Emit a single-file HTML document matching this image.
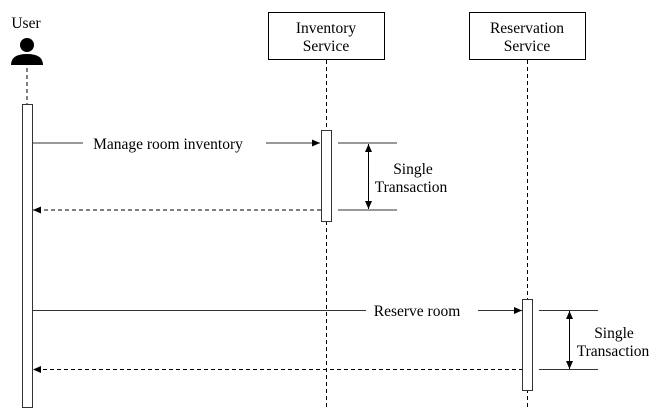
<!DOCTYPE html>
<html><head><meta charset="utf-8"><style>
html,body{margin:0;padding:0;background:#fff;width:656px;height:413px;overflow:hidden}
</style></head><body>
<svg width="656" height="413" viewBox="0 0 656 413" xmlns="http://www.w3.org/2000/svg" font-family="Liberation Serif, Times New Roman, serif" font-size="15.5">
<defs>
<marker id="a" markerWidth="8" markerHeight="8" refX="8" refY="4" orient="auto" markerUnits="userSpaceOnUse"><path d="M0,0.5 L8,4 L0,7.5 Z" fill="#000"/></marker>
<marker id="s" markerWidth="8" markerHeight="8" refX="8" refY="4" orient="auto-start-reverse" markerUnits="userSpaceOnUse"><path d="M0,0.5 L8,4 L0,7.5 Z" fill="#000"/></marker>
</defs>
<g font-family="Liberation Serif, serif" fill="#000">
<text x="26" y="28" text-anchor="middle">User</text>
<text x="326" y="33" text-anchor="middle">Inventory</text>
<text x="326" y="51" text-anchor="middle">Service</text>
<text x="527" y="33" text-anchor="middle">Reservation</text>
<text x="527" y="51" text-anchor="middle">Service</text>
<text x="168" y="149" text-anchor="middle">Manage room inventory</text>
<text x="417" y="316" text-anchor="middle">Reserve room</text>
<text x="413" y="174" text-anchor="middle">Single</text>
<text x="411" y="192" text-anchor="middle">Transaction</text>
<text x="614" y="338" text-anchor="middle">Single</text>
<text x="613" y="356" text-anchor="middle">Transaction</text>
</g>
<!-- User -->
<circle cx="27" cy="45" r="7" fill="#000"/>
<path d="M11,65 Q11,54 27,54 Q43,54 43,65 Z" fill="#000"/>
<line x1="27" y1="68" x2="27" y2="104" stroke="#000" stroke-dasharray="4,3"/>
<!-- Inventory -->
<rect x="268.5" y="12.5" width="116" height="47" fill="none" stroke="#000"/>
<line x1="326.5" y1="60" x2="326.5" y2="408" stroke="#000" stroke-dasharray="4,3"/>
<!-- Reservation -->
<rect x="469.5" y="12.5" width="116" height="47" fill="none" stroke="#000"/>
<line x1="527.5" y1="60" x2="527.5" y2="408" stroke="#000" stroke-dasharray="4,3"/>
<!-- messages -->
<line x1="32" y1="143" x2="83" y2="143" stroke="#333"/>
<line x1="266" y1="143" x2="320" y2="143" stroke="#333" marker-end="url(#a)"/>
<line x1="321" y1="210" x2="33" y2="210" stroke="#000" stroke-dasharray="4,3" marker-end="url(#a)"/>
<line x1="32" y1="310.5" x2="366" y2="310.5" stroke="#333"/>
<line x1="478" y1="310.5" x2="522" y2="310.5" stroke="#333" marker-end="url(#a)"/>
<line x1="523" y1="369.5" x2="33" y2="369.5" stroke="#000" stroke-dasharray="4,3" marker-end="url(#a)"/>
<!-- activations -->
<rect x="22.5" y="104.5" width="10" height="303" fill="#fff" stroke="#333"/>
<rect x="321.5" y="130.5" width="10" height="91" fill="#fff" stroke="#333"/>
<rect x="522.5" y="299.5" width="10" height="91" fill="#fff" stroke="#333"/>
<!-- brackets -->
<line x1="338" y1="143" x2="397" y2="143" stroke="#333"/>
<line x1="338" y1="210" x2="397" y2="210" stroke="#333"/>
<line x1="368.5" y1="144" x2="368.5" y2="209" stroke="#000" marker-start="url(#s)" marker-end="url(#s)"/>
<line x1="539" y1="310.5" x2="598" y2="310.5" stroke="#333"/>
<line x1="539" y1="369.5" x2="598" y2="369.5" stroke="#333"/>
<line x1="569.5" y1="311" x2="569.5" y2="369" stroke="#000" marker-start="url(#s)" marker-end="url(#s)"/>
</svg>
</body></html>
